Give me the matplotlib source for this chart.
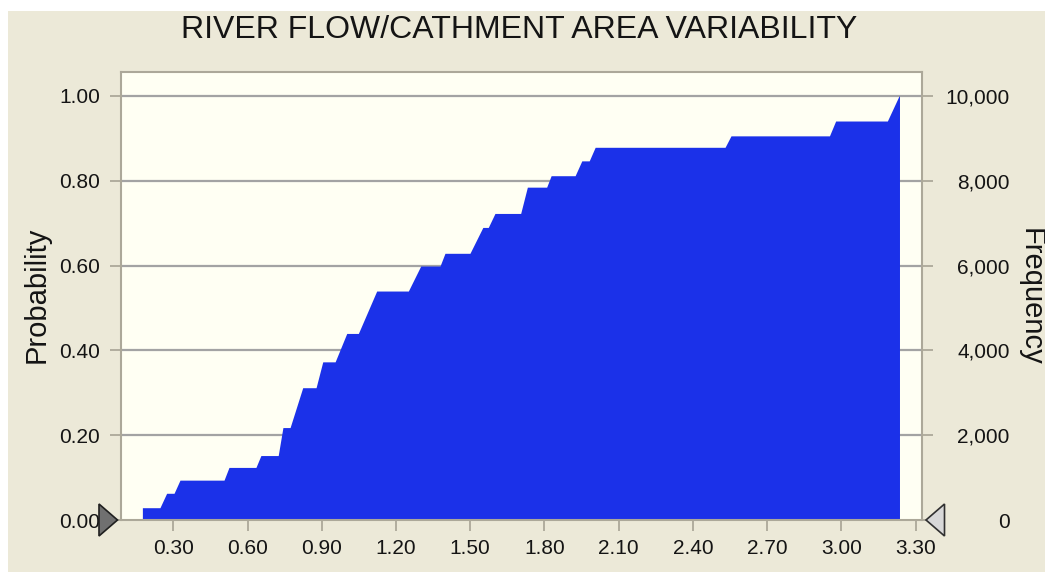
import matplotlib
matplotlib.use("Agg")
import matplotlib.pyplot as plt
import matplotlib.transforms as mtransforms
from matplotlib.patches import Polygon, Rectangle
from matplotlib.ticker import FuncFormatter

plt.rcParams['font.family'] = ['Liberation Sans', 'DejaVu Sans']

# cumulative probability curve (outline of the filled area)
flow_ratio = [0.175, 0.246, 0.273, 0.303, 0.327, 0.505, 0.525, 0.634, 0.654,
              0.724, 0.743, 0.772, 0.823, 0.877, 0.904, 0.954, 1.001, 1.048,
              1.122, 1.250, 1.300, 1.378, 1.398, 1.499, 1.551, 1.573, 1.600,
              1.704, 1.731, 1.809, 1.827, 1.924, 1.951, 1.981, 2.005, 2.530,
              2.554, 2.952, 2.977, 3.186, 3.233, 3.235]
cum_prob = [0.029, 0.029, 0.063, 0.063, 0.094, 0.094, 0.124, 0.124, 0.152,
            0.152, 0.218, 0.218, 0.312, 0.312, 0.373, 0.373, 0.440, 0.440,
            0.540, 0.540, 0.599, 0.599, 0.629, 0.629, 0.690, 0.690, 0.723,
            0.723, 0.785, 0.785, 0.812, 0.812, 0.847, 0.847, 0.879, 0.879,
            0.906, 0.906, 0.941, 0.941, 1.000, 1.000]

x_ticks = [0.30, 0.60, 0.90, 1.20, 1.50, 1.80, 2.10, 2.40, 2.70, 3.00, 3.30]
prob_ticks = [0.0, 0.2, 0.4, 0.6, 0.8, 1.0]
freq_ticks = [0, 2000, 4000, 6000, 8000, 10000]
n_trials = 10000

BEIGE = '#ECE9D8'
GRAY = '#ACA899'
GRID = '#A3A3A3'
BLUE = '#1B31E9'
TXT = '#141414'

fig = plt.figure(figsize=(10.45, 5.72), dpi=100, facecolor='white')
fig.add_artist(Rectangle((8 / 1045, 0), 1, 561 / 572, transform=fig.transFigure,
                         facecolor=BEIGE, edgecolor='none', zorder=-10))

ax = fig.add_axes([121 / 1045, 52 / 572, 801 / 1045, 448 / 572])
ax.set_facecolor('#FFFFF3')
ax.fill_between(flow_ratio, cum_prob, 0, color=BLUE, linewidth=0, zorder=2)

ax.set_xlim(0.0886, 3.326)
ax.set_ylim(0, 1.0566)
ax.set_xticks(x_ticks)
ax.set_xticklabels([f'{v:.2f}' for v in x_ticks])
ax.set_yticks(prob_ticks)
ax.set_yticklabels([f'{v:.2f}' for v in prob_ticks])
for v in prob_ticks[1:]:
    ax.axhline(v, color=GRID, linewidth=1.6, zorder=1)

for s in ax.spines.values():
    s.set_color(GRAY)
    s.set_linewidth(1.5)
ax.tick_params(axis='both', colors=GRAY, labelcolor=TXT, labelsize=15,
               length=8, width=1.3)
ax.tick_params(axis='y', pad=7)
ax.tick_params(axis='x', pad=6)

ax2 = ax.twinx()
ax2.set_ylim(0, 1.0566 * n_trials)
ax2.set_yticks(freq_ticks)
ax2.yaxis.set_major_formatter(FuncFormatter(lambda v, p: f'{int(v):,}'))
ax2.tick_params(axis='y', colors=GRAY, labelcolor=TXT, labelsize=15,
                length=8, width=1.3, pad=55)
for lab in ax2.get_yticklabels():
    lab.set_horizontalalignment('right')
for s in ax2.spines.values():
    s.set_visible(False)

fig.text(519 / 1045, 1 - 30 / 572, 'RIVER FLOW/CATHMENT AREA VARIABILITY',
         ha='center', va='center', fontsize=23, color=TXT)
fig.text(37 / 1045, 1 - 295 / 572, 'Probability', rotation=90,
         ha='center', va='center', fontsize=21, color=TXT)
fig.text(1031 / 1045, 1 - 297 / 572, 'Frequency', rotation=270,
         ha='center', va='center', fontsize=21, color=TXT)

# grabber triangles at the ends of the x axis
left_tr = fig.dpi_scale_trans + mtransforms.ScaledTranslation(0, 0, ax.transAxes)
right_tr = fig.dpi_scale_trans + mtransforms.ScaledTranslation(1, 0, ax.transAxes)
fig.add_artist(Polygon([(-0.22, 0.16), (-0.22, -0.16), (-0.035, 0)], closed=True,
                       transform=left_tr, facecolor='#707070', edgecolor='#202020',
                       linewidth=1.2, zorder=5))
fig.add_artist(Polygon([(0.225, 0.16), (0.225, -0.16), (0.04, 0)], closed=True,
                       transform=right_tr, facecolor='#D8D8D8', edgecolor='#303030',
                       linewidth=1.2, zorder=5))

fig.savefig('out.png', dpi=100, facecolor=fig.get_facecolor())
